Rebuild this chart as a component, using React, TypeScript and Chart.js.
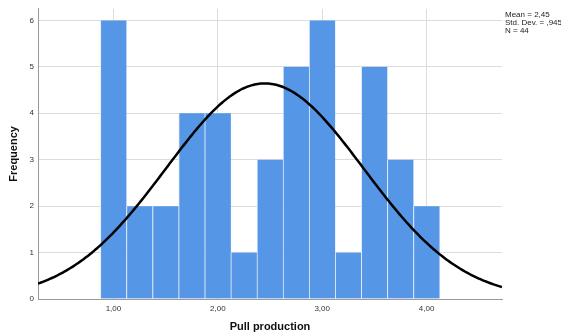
import React, { useEffect, useRef } from "react";
import { Chart, registerables } from "chart.js";

Chart.register(...registerables);

// Histogram bins (centers) and their frequencies
const binCenters = [1.0, 1.25, 1.5, 1.75, 2.0, 2.25, 2.5, 2.75, 3.0, 3.25, 3.5, 3.75, 4.0];
const frequencies = [6, 2, 2, 4, 4, 1, 3, 5, 6, 1, 5, 3, 2];
const binWidth = 0.25;

// Summary statistics shown beside the plot
const mean = 2.45;
const stdDev = 0.945;
const n = 44;
const statLines = ["Mean = 2,45", "Std. Dev. = ,945", "N = 44"];

const xTicks = [1, 2, 3, 4];
const yTicks = [0, 1, 2, 3, 4, 5, 6];
const xMin = 0.277;
const xMax = 4.723;
const yMax = 6.25;

// Fitted normal curve scaled to counts per bin
function normalCurve() {
  const pts: { x: number; y: number }[] = [];
  const steps = 300;
  for (let i = 0; i <= steps; i++) {
    const x = xMin + ((xMax - xMin) * i) / steps;
    const z = (x - mean) / stdDev;
    const y = (n * binWidth) / (stdDev * Math.sqrt(2 * Math.PI)) * Math.exp(-0.5 * z * z);
    pts.push({ x, y });
  }
  return pts;
}

const fontFamily = "'Liberation Sans', Arial, sans-serif";

const statsPlugin = {
  id: "statsText",
  afterDraw(chart: any) {
    const ctx = chart.ctx;
    ctx.save();
    ctx.fillStyle = "#222";
    ctx.font = `8px ${fontFamily}`;
    ctx.textBaseline = "middle";
    ctx.textAlign = "left";
    statLines.forEach((t, i) => ctx.fillText(t, 505, 15 + i * 8));
    ctx.restore();
  },
};

export default function App() {
  const canvasRef = useRef<HTMLCanvasElement | null>(null);

  useEffect(() => {
    if (!canvasRef.current) return;
    const chart = new Chart(canvasRef.current, {
      type: "bar",
      data: {
        datasets: [
          {
            type: "line",
            data: normalCurve(),
            borderColor: "#000",
            borderWidth: 2.5,
            pointRadius: 0,
            tension: 0,
            order: 0,
          } as any,
          {
            type: "bar",
            data: binCenters.map((x, i) => ({ x, y: frequencies[i] })),
            backgroundColor: "#5596e6",
            borderColor: "rgba(225,236,250,0.95)",
            borderWidth: { left: 1, right: 0, top: 0, bottom: 0 },
            borderSkipped: false,
            barPercentage: 1,
            categoryPercentage: 1,
            order: 1,
          } as any,
        ],
      },
      options: {
        responsive: false,
        animation: false,
        devicePixelRatio: 1,
        layout: { padding: { top: 7, right: 59, left: 0, bottom: 0 } },
        plugins: { legend: { display: false }, tooltip: { enabled: false } },
        scales: {
          x: {
            type: "linear",
            min: xMin,
            max: xMax,
            offset: false,
            afterBuildTicks: (s: any) => {
              s.ticks = xTicks.map((v) => ({ value: v }));
            },
            afterFit: (s: any) => {
              s.height = 37;
            },
            ticks: {
              font: { family: fontFamily, size: 8 },
              color: "#333",
              padding: 5,
              maxRotation: 0,
              callback: (v: any) => Number(v).toFixed(2).replace(".", ","),
            },
            grid: { color: "#dcdcdc", drawTicks: false, offset: false },
            border: { color: "#9a9a9a", width: 1 },
            title: {
              display: true,
              text: "Pull production",
              font: { family: fontFamily, size: 11, weight: "bold" },
              color: "#111",
              padding: { top: 0, bottom: 2 },
            },
          },
          y: {
            min: 0,
            max: yMax,
            afterBuildTicks: (s: any) => {
              s.ticks = yTicks.map((v) => ({ value: v }));
            },
            afterFit: (s: any) => {
              s.width = 38;
            },
            ticks: {
              font: { family: fontFamily, size: 8 },
              color: "#333",
              padding: 4,
            },
            grid: { color: "#dcdcdc", drawTicks: false },
            border: { color: "#9a9a9a", width: 1 },
            title: {
              display: true,
              text: "Frequency",
              font: { family: fontFamily, size: 11, weight: "bold" },
              color: "#111",
              padding: { top: 7, bottom: 0 },
            },
          },
        },
      },
      plugins: [statsPlugin],
    });
    return () => chart.destroy();
  }, []);

  return (
    <div style={{ position: "absolute", left: 0, top: 0, width: 561, height: 336, background: "#fff" }}>
      <canvas ref={canvasRef} width={561} height={336} />
    </div>
  );
}
